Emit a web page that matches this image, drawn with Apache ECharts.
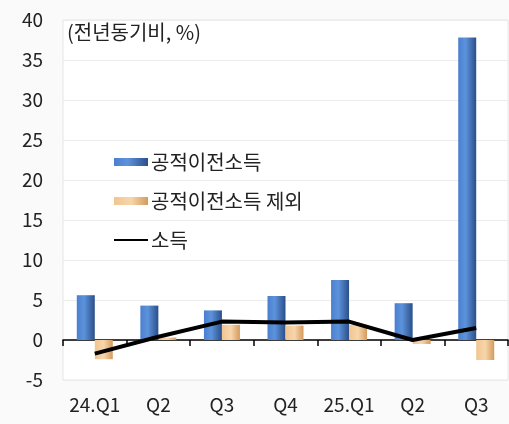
<!DOCTYPE html>
<html>
<head>
<meta charset="utf-8">
<script src="https://cdn.jsdelivr.net/npm/echarts@6/dist/echarts.min.js"></script>
<style>
  html, body { margin: 0; padding: 0; background: #fafafa; }
  #chart { width: 509px; height: 424px; }
</style>
</head>
<body>
<div id="chart"></div>
<script>
const categories = ['24.Q1', 'Q2', 'Q3', 'Q4', '25.Q1', 'Q2', 'Q3']
const publicTransfer = [5.6, 4.3, 3.7, 5.5, 7.5, 4.6, 37.8]
const exTransfer = [-2.4, 0.3, 1.9, 1.8, 1.9, -0.5, -2.5]
const income = [-1.7, 0.4, 2.3, 2.2, 2.3, 0.0, 1.5]
const seriesNames = ['공적이전소득', '공적이전소득 제외', '소득']

const fontFamily = '"Noto Sans CJK KR", "Noto Sans", sans-serif'

var chartDom = document.getElementById('chart');
var myChart = echarts.init(chartDom);
var option;

option = {
  backgroundColor: '#fafafa',
  animation: false,
  textStyle: { fontFamily: fontFamily },
  title: {
    text: '(전년동기비, %)',
    left: 62,
    top: 17,
    textStyle: { fontSize: 20, fontWeight: 'normal', color: '#222', fontFamily: fontFamily }
  },
  legend: {
    orient: 'vertical',
    left: 108,
    top: 147,
    itemGap: 19,
    itemWidth: 34,
    itemHeight: 8,
    textStyle: { fontSize: 20, color: '#222', padding: [0, 0, 0, -2] },
    data: [
      { name: seriesNames[0], icon: 'rect' },
      { name: seriesNames[1], icon: 'rect' },
      // line legend draws a circle when symbol is 'none', hide it
      { name: seriesNames[2], itemStyle: { opacity: 0 } }
    ]
  },
  grid: {
    left: 63,
    right: 1,
    top: 20,
    bottom: 44,
    show: true,
    backgroundColor: '#ffffff',
    borderColor: '#e6e6e6',
    borderWidth: 1
  },
  xAxis: [
    // labels stay at the bottom
    {
      type: 'category',
      data: categories,
      position: 'bottom',
      axisLine: { show: false, onZero: false },
      axisTick: { show: false },
      splitLine: { show: false },
      axisLabel: { fontSize: 19, color: '#222', margin: 15, interval: 0 }
    },
    // black zero line with ticks
    {
      type: 'category',
      data: categories,
      position: 'bottom',
      axisLine: { show: true, onZero: true, lineStyle: { color: '#000', width: 1.5 } },
      axisTick: { show: true, length: 6, lineStyle: { color: '#000', width: 1.5 } },
      splitLine: { show: false },
      axisLabel: { show: false }
    }
  ],
  yAxis: {
    type: 'value',
    min: -5,
    max: 40,
    interval: 5,
    axisLine: { show: false },
    axisTick: { show: false },
    axisLabel: { fontSize: 19, color: '#222', margin: 20 },
    splitLine: { lineStyle: { color: '#ececec' } }
  },
  series: [
    {
      name: seriesNames[0],
      type: 'bar',
      xAxisIndex: 0,
      data: publicTransfer,
      barWidth: 18,
      barGap: '0%',
      itemStyle: {
        color: new echarts.graphic.LinearGradient(0, 0, 1, 0, [
          { offset: 0, color: '#4a7fcf' },
          { offset: 0.4, color: '#5d93dc' },
          { offset: 1, color: '#2b4f8a' }
        ])
      }
    },
    {
      name: seriesNames[1],
      type: 'bar',
      xAxisIndex: 0,
      data: exTransfer,
      barWidth: 18,
      barGap: '0%',
      itemStyle: {
        color: new echarts.graphic.LinearGradient(0, 0, 1, 0, [
          { offset: 0, color: '#f0c590' },
          { offset: 0.5, color: '#f7d6ab' },
          { offset: 1, color: '#d49a5c' }
        ])
      }
    },
    {
      name: seriesNames[2],
      type: 'line',
      xAxisIndex: 0,
      data: income,
      symbol: 'none',
      lineStyle: { color: '#000', width: 4 },
      itemStyle: { color: '#000' }
    }
  ]
};

option && myChart.setOption(option);
</script>
</body>
</html>
